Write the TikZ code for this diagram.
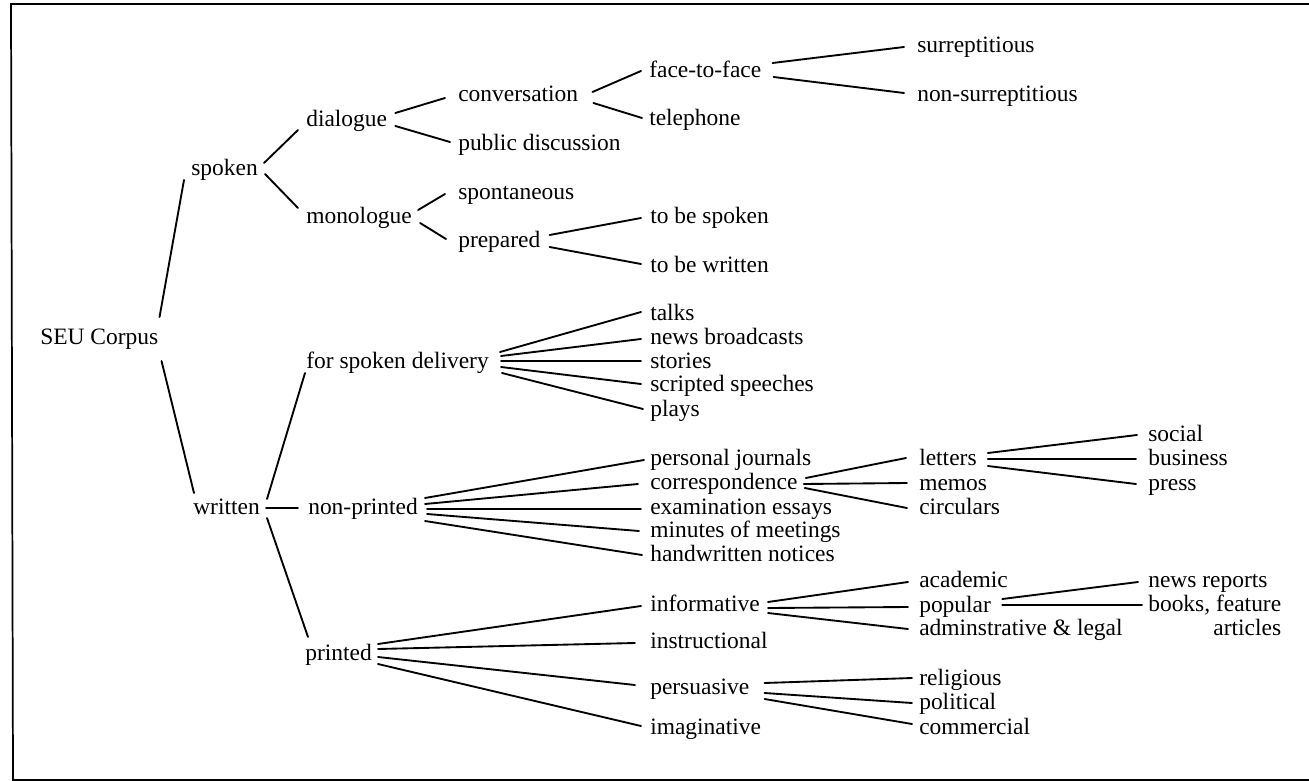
\documentclass[tikz,border=0pt]{standalone}
\usepackage{fontspec}
\setmainfont{Liberation Serif}
\usetikzlibrary{calc}
\tikzset{
  tx/.style={anchor=west, inner sep=0pt, text height=13pt, text depth=3.2pt,
    font=\fontsize{17.6}{18}\selectfont},
  conn/.style={line width=1.4pt, line cap=round},
  frame/.style={line width=1.3pt}
}
\newcommand\lk[6]{\draw[conn] ($(#1.east)+(#2,#3)$) -- ($(#4.west)+(#5,#6)$);}
\begin{document}
\begin{tikzpicture}[x=0.75pt, y=-0.75pt]
\useasboundingbox (0,0) rectangle (1309,781);
\draw[frame] (1309,4) -- (11,4) -- (13,780) -- (1309,780);
% column 0-2
\node[tx] (seu) at (40,338) {SEU Corpus};
\node[tx] (spoken) at (191,169) {spoken};
\node[tx] (written) at (193,508) {written};
\node[tx] (dialogue) at (306,120) {dialogue};
\node[tx] (monologue) at (306,217) {monologue};
\node[tx] (fsd) at (306,362) {for spoken delivery};
\node[tx] (nonprinted) at (308,508) {non-printed};
\node[tx] (printed) at (305,654) {printed};
% column 3
\node[tx] (conv) at (458,95) {conversation};
\node[tx] (public) at (458,144) {public discussion};
\node[tx] (spont) at (458,193) {spontaneous};
\node[tx] (prepared) at (458,241) {prepared};
% column 4
\node[tx] (face) at (649,71) {face-to-face};
\node[tx] (tel) at (649,119) {telephone};
\node[tx] (tbs) at (650,217) {to be spoken};
\node[tx] (tbw) at (650,266) {to be written};
\node[tx] (talks) at (650,314) {talks};
\node[tx] (news) at (650,338) {news broadcasts};
\node[tx] (stories) at (650,362) {stories};
\node[tx] (scripted) at (650,385) {scripted speeches};
\node[tx] (plays) at (650,410) {plays};
\node[tx] (pj) at (650,459) {personal journals};
\node[tx] (corr) at (650,483) {correspondence};
\node[tx] (exam) at (650,508) {examination essays};
\node[tx] (minutes) at (650,531) {minutes of meetings};
\node[tx] (hand) at (650,555) {handwritten notices};
\node[tx] (inform) at (650,605) {informative};
\node[tx] (instr) at (650,642) {instructional};
\node[tx] (persu) at (650,688) {persuasive};
\node[tx] (imag) at (650,728) {imaginative};
% column 5
\node[tx] (surr) at (917,46) {surreptitious};
\node[tx] (nonsurr) at (917,95) {non-surreptitious};
\node[tx] (letters) at (919,459) {letters};
\node[tx] (memos) at (919,484) {memos};
\node[tx] (circ) at (919,508) {circulars};
\node[tx] (academic) at (919,581) {academic};
\node[tx] (popular) at (919,606) {popular};
\node[tx] (admin) at (919,629) {adminstrative \& legal};
\node[tx] (religious) at (919,679) {religious};
\node[tx] (political) at (919,703) {political};
\node[tx] (commercial) at (919,728) {commercial};
% column 6
\node[tx] (social) at (1148,435) {social};
\node[tx] (business) at (1148,459) {business};
\node[tx] (press) at (1148,484) {press};
\node[tx] (newsrep) at (1148,581) {news reports};
\node[anchor=base west, inner sep=0pt, font=\fontsize{17.6}{18}\selectfont] (books) at (1148,611.5)
  {\begin{tabular}[t]{@{}r@{}}books, feature\\articles\end{tabular}};
% connectors
\lk{seu}{1}{-21}{spoken}{-7}{11}
\lk{seu}{3}{23}{written}{1}{-15}
\lk{spoken}{6}{-6}{dialogue}{-8}{10}
\lk{spoken}{7}{5}{monologue}{-8}{-9}
\lk{dialogue}{8}{-7}{conv}{-13}{3}
\lk{dialogue}{8}{6}{public}{-8}{-2}
\lk{monologue}{6}{-7}{spont}{-13}{1}
\lk{monologue}{8}{6}{prepared}{-12}{-2}
\lk{conv}{14}{-3}{face}{-8}{0}
\lk{conv}{15}{8}{tel}{-7}{-1}
\lk{face}{11}{-8}{surr}{-13}{1}
\lk{face}{12}{6}{nonsurr}{-13}{-2}
\lk{prepared}{9}{-6}{tbs}{-9}{1}
\lk{prepared}{9}{6}{tbw}{-9}{-2}
\lk{written}{7}{-9}{fsd}{-1}{11}
\lk{written}{6}{0}{nonprinted}{-10}{0}
\lk{written}{7}{10}{printed}{3}{-17}
\lk{fsd}{11}{-10}{talks}{-9}{-2}
\lk{fsd}{12}{-6}{news}{-9}{1}
\lk{fsd}{12}{-1}{stories}{-9}{-1}
\lk{fsd}{12}{5}{scripted}{-9}{-1}
\lk{fsd}{13}{11}{plays}{-7}{-1}
\lk{nonprinted}{7}{-10}{pj}{-6}{1}
\lk{nonprinted}{7}{-4}{corr}{-12}{1}
\lk{nonprinted}{9}{1}{exam}{-9}{1}
\lk{nonprinted}{9}{6}{minutes}{-11}{0}
\lk{nonprinted}{7}{13}{hand}{-8}{0}
\lk{printed}{6}{-10}{inform}{-9}{1}
\lk{printed}{6}{-5}{instr}{-15}{1}
\lk{printed}{6}{3}{persu}{-15}{-3}
\lk{printed}{6}{10}{imag}{-9}{-2}
\lk{corr}{8}{-5}{letters}{-13}{-1}
\lk{corr}{6}{1}{memos}{-12}{-1}
\lk{corr}{7}{5}{circ}{-12}{0}
\lk{letters}{11}{-6}{social}{-11}{0}
\lk{letters}{11}{0}{business}{-12}{0}
\lk{letters}{11}{7}{press}{-12}{0}
\lk{inform}{8}{-3}{academic}{-11}{1}
\lk{inform}{8}{3}{popular}{-11}{1}
\lk{inform}{8}{8}{admin}{-11}{0}
\lk{popular}{11}{-7}{newsrep}{-10}{1}
\draw[conn] ($(popular.east)+(11,-1)$) -- ($(books.base west)+(-6,-6.5)$);
\lk{persu}{15}{-5}{religious}{-7}{-1}
\lk{persu}{15}{5}{political}{-7}{0}
\lk{persu}{15}{11}{commercial}{-7}{-4}
\end{tikzpicture}
\end{document}
